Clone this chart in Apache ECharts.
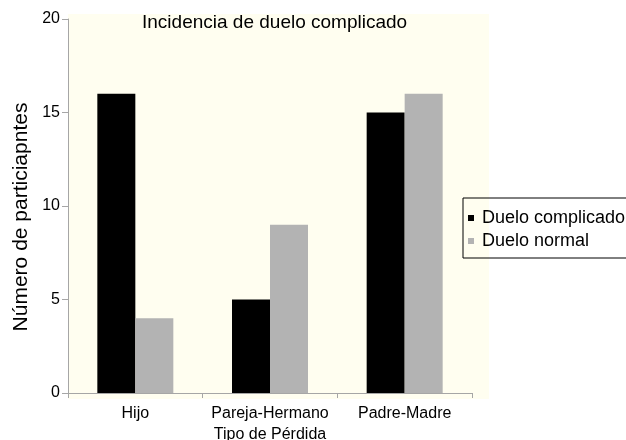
<!DOCTYPE html>
<html>
<head>
<meta charset="utf-8">
<script src="https://cdn.jsdelivr.net/npm/echarts@6/dist/echarts.min.js"></script>
<style>html,body{margin:0;padding:0;background:#fff}#c{width:626px;height:440px}</style>
</head>
<body>
<div id="c"></div>
<script>
const categories = ['Hijo', 'Pareja-Hermano', 'Padre-Madre'];
const seriesNames = ['Duelo complicado', 'Duelo normal'];
const complicado = [16, 5, 15];
const normal = [4, 9, 16];
const yTicks = [0, 5, 10, 15, 20];

const FONT = '"Liberation Sans", Arial, Helvetica, sans-serif';
const chart = echarts.init(document.getElementById('c'), null, {renderer: 'canvas'});
chart.setOption({
  animation: false,
  backgroundColor: '#ffffff',
  textStyle: {fontFamily: FONT, color: '#000'},
  graphic: [{
    type: 'rect', z: -10, silent: true,
    shape: {x: 68, y: 14, width: 421, height: 385},
    style: {fill: '#fffef0'}
  }],
  title: {
    text: 'Incidencia de duelo complicado',
    left: 137, top: 8,
    textStyle: {fontFamily: FONT, fontSize: 19, fontWeight: 'normal', color: '#000'}
  },
  legend: {
    orient: 'vertical',
    left: 463, top: 198,
    data: seriesNames,
    icon: 'rect',
    itemWidth: 6, itemHeight: 6, itemGap: 3,
    borderColor: '#000', borderWidth: 1,
    padding: [10, 40, 7, 5],
    textStyle: {fontFamily: FONT, fontSize: 18, lineHeight: 20, color: '#000', padding: [0, 0, 0, 3]}
  },
  grid: {left: 68, top: 19, width: 404, height: 374, containLabel: false, outerBoundsMode: 'none'},
  xAxis: {
    type: 'category',
    data: categories,
    name: 'Tipo de Pérdida',
    nameLocation: 'middle',
    nameGap: 33,
    nameTextStyle: {fontFamily: FONT, fontSize: 16, color: '#000'},
    axisLine: {lineStyle: {color: '#a6a6a6'}},
    axisTick: {show: true, length: 5, lineStyle: {color: '#a6a6a6'}},
    axisLabel: {fontFamily: FONT, fontSize: 16, color: '#000', margin: 13, interval: 0}
  },
  yAxis: {
    type: 'value',
    min: 0, max: 20, interval: 5,
    name: 'Número de particiapntes',
    nameLocation: 'middle',
    nameGap: 36,
    nameTextStyle: {fontFamily: FONT, fontSize: 21, color: '#000', padding: [0, 22, 0, 0]},
    axisLine: {show: true, lineStyle: {color: '#a6a6a6'}},
    axisTick: {show: true, length: 6, lineStyle: {color: '#a6a6a6'}},
    splitLine: {show: false},
    axisLabel: {fontFamily: FONT, fontSize: 16, color: '#000', margin: 8,
      formatter: v => yTicks.includes(v) ? String(v) : ''}
  },
  series: [
    {name: seriesNames[0], type: 'bar', data: complicado, barWidth: 38, barGap: '0%',
     itemStyle: {color: '#000000'}},
    {name: seriesNames[1], type: 'bar', data: normal, barWidth: 38, barGap: '0%',
     itemStyle: {color: '#b3b3b3'}}
  ]
});
</script>
</body>
</html>
